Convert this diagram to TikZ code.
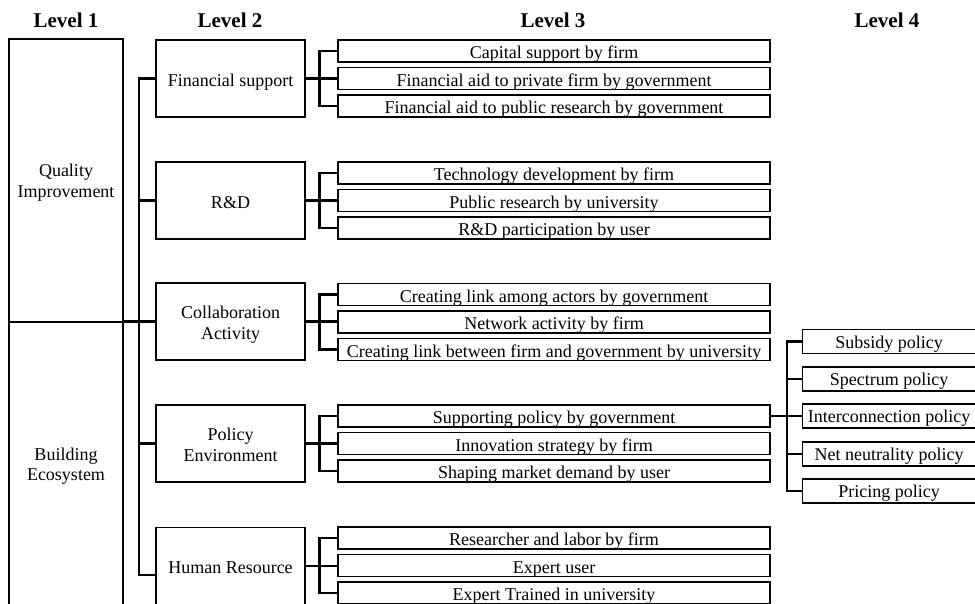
\documentclass[tikz,border=0pt]{standalone}
\usepackage{fontspec}
\setmainfont{Liberation Serif}
\begin{document}
\begin{tikzpicture}[x=1pt,y=-1pt,
  every node/.style={font=\fontsize{18}{20.5}\selectfont, inner sep=0pt, align=center},
  boxline/.style={draw, line width=1.1pt, text height=16pt, text depth=1pt},
  lonebox/.style={boxline, minimum width=114pt, text height=34.5pt},
  ltwobox/.style={boxline, minimum width=149pt, minimum height=77pt},
  twolines/.style={text height=36.5pt},
  lthreebox/.style={boxline, minimum width=432pt, minimum height=22pt},
  lfourbox/.style={boxline, minimum width=178pt, minimum height=24pt, anchor=west, text height=14pt},
  hdr/.style={font=\fontsize{21}{24}\selectfont\bfseries, anchor=base},
  conn/.style={line width=2.4pt, line join=miter}]
\useasboundingbox (0,0) rectangle (975,603);

% headers
\node[hdr] (h1) at (66,27) {Level 1};
\node[hdr] (h2) at (230,27) {Level 2};
\node[hdr] (h3) at (553,27) {Level 3};
\node[hdr] (h4) at (887,27) {Level 4};

% level 1
\node[lonebox, minimum height=283pt] (qi) at (66,180.5) {Quality\\Improvement};
\node[lonebox, minimum height=284pt] (be) at (66,464) {Building\\Ecosystem};

% level 2
\node[ltwobox] (fs) at (230.5,78.5) {Financial support};
\node[ltwobox] (rd) at (230.5,200.5) {R\&D};
\node[ltwobox, twolines] (ca) at (230.5,321.5) {Collaboration\\Activity};
\node[ltwobox, twolines] (pe) at (230.5,443.5) {Policy\\Environment};
\node[ltwobox] (hr) at (230.5,566) {Human Resource};

% level 3
\node[lthreebox] (a1) at (554,51) {Capital support by firm};
\node[lthreebox] (a2) at (554,78.5) {Financial aid to private firm by government};
\node[lthreebox] (a3) at (554,106) {Financial aid to public research by government};
\node[lthreebox] (b1) at (554,173) {Technology development by firm};
\node[lthreebox] (b2) at (554,200.5) {Public research by university};
\node[lthreebox] (b3) at (554,228) {R\&D participation by user};
\node[lthreebox] (c1) at (554,294.5) {Creating link among actors by government};
\node[lthreebox] (c2) at (554,322) {Network activity by firm};
\node[lthreebox] (c3) at (554,349.5) {Creating link between firm and government by university};
\node[lthreebox] (d1) at (554,416) {Supporting policy by government};
\node[lthreebox] (d2) at (554,443.5) {Innovation strategy by firm};
\node[lthreebox] (d3) at (554,471) {Shaping market demand by user};
\node[lthreebox] (e1) at (554,538) {Researcher and labor by firm};
\node[lthreebox] (e2) at (554,565.5) {Expert user};
\node[lthreebox] (e3) at (554,593) {Expert Trained in university};

% level 4
\node[lfourbox] (p1) at (802,341.5) {\hspace*{-5pt}Subsidy policy};
\node[lfourbox] (p2) at (802,379) {\hspace*{-5pt}Spectrum policy};
\node[lfourbox] (p3) at (802,416) {\hspace*{-5pt}Interconnection policy};
\node[lfourbox] (p4) at (802,454) {\hspace*{-5pt}Net neutrality policy};
\node[lfourbox] (p5) at (802,491) {\hspace*{-5pt}Pricing policy};

% level 1 divider
\draw[line width=1.1pt] (qi.south west) -- (qi.south east);

% level 1 to level 2
\coordinate (tt) at (139,78.5);
\coordinate (tb) at (139,575);
\draw[conn] (ca.west -| qi.east) -- (ca.west);
\draw[conn] (fs.west) -- (tt) -- (tb) -- (hr.west |- tb);
\draw[conn] (rd.west) -- (rd.west -| tt);
\draw[conn] (pe.west) -- (pe.west -| tt);

% level 2 to level 3
\foreach \p/\x/\y/\z in {fs/a1/a2/a3, rd/b1/b2/b3, ca/c1/c2/c3, pe/d1/d2/d3, hr/e1/e2/e3}{
  \draw[conn] (\p.east) -- (\p.east -| \y.west);
  \draw[conn] (\x.west) -- ++(-18,0) |- (\z.west);
}

% level 3 to level 4
\coordinate (fk) at (787,416);
\draw[conn] (d1.east) -- (p3.west);
\draw[conn] (p1.west) -- (p1.west -| fk) |- (p5.west);
\draw[conn] (p2.west) -- (p2.west -| fk);
\draw[conn] (p4.west) -- (p4.west -| fk);
\end{tikzpicture}
\end{document}
